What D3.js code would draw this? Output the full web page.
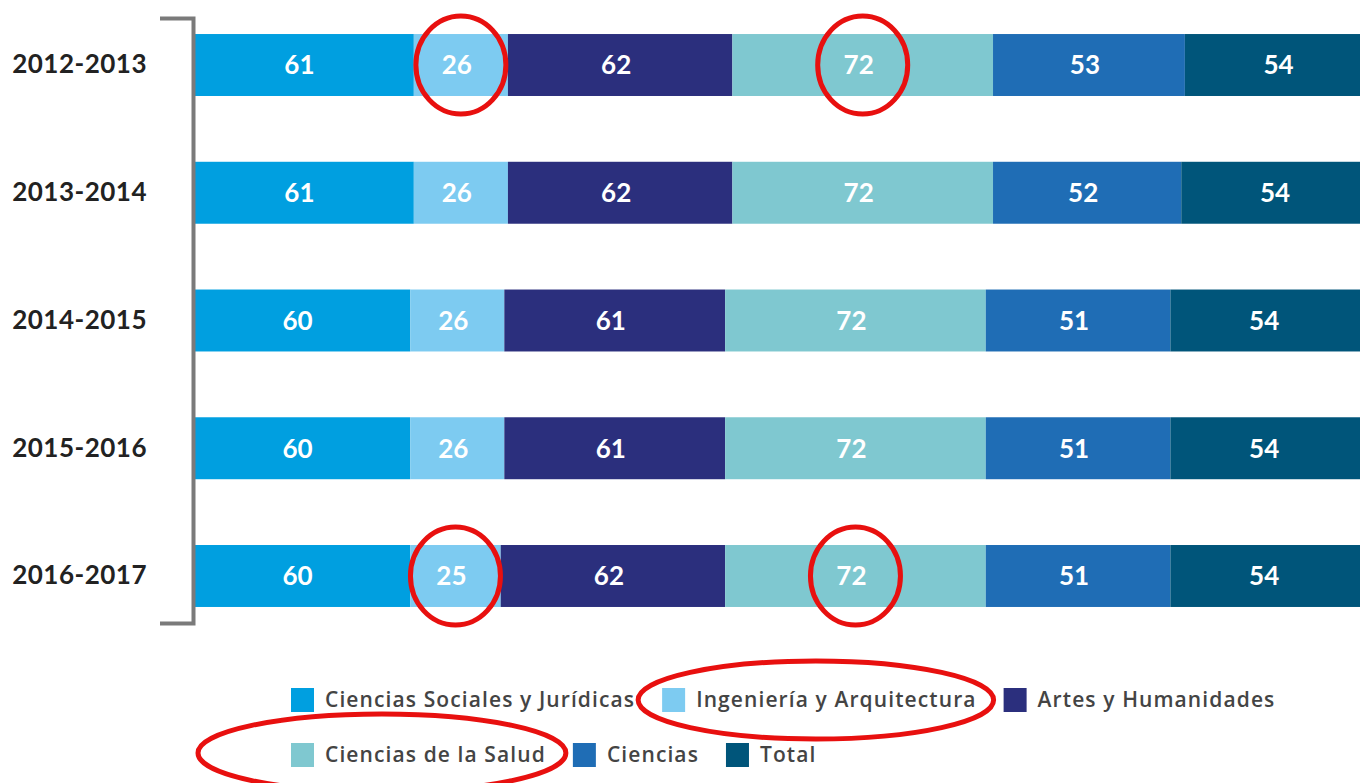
<html>
<head>
<meta charset="utf-8">
<script src="https://d3js.org/d3.v7.min.js"></script>
<style>
  body { margin: 0; background: #fff; }
  .tick text { font-family: Lato, "Open Sans", sans-serif; font-weight: 700; }
</style>
</head>
<body>
<svg width="1360" height="783"></svg>
<script>
// data
var years = ["2012-2013", "2013-2014", "2014-2015", "2015-2016", "2016-2017"];
var series = ["Ciencias Sociales y Jurídicas", "Ingeniería y Arquitectura", "Artes y Humanidades",
              "Ciencias de la Salud", "Ciencias", "Total"];
var socialesJuridicas = [61, 61, 60, 60, 60];
var ingenieriaArq     = [26, 26, 26, 26, 25];
var artesHumanidades  = [62, 62, 61, 61, 62];
var cienciasSalud     = [72, 72, 72, 72, 72];
var ciencias          = [53, 52, 51, 51, 51];
var total             = [54, 54, 54, 54, 54];
var colors = ["#009fe0", "#7dcbf1", "#2b2f7d", "#7fc8d0", "#1f6db5", "#00557a"];
// red circles drawn over the picture: [year index, series index]
var circledCells = [[0, 1], [0, 3], [4, 1], [4, 3]];
// legend entries circled, with how far the hand-drawn ring reaches left / right
var circledLegend = [{item: 1, padL: 24, padR: 17, dy: 0}, {item: 3, padL: 93, padR: 20, dy: -2}];

var values = [socialesJuridicas, ingenieriaArq, artesHumanidades, cienciasSalud, ciencias, total];
var table = years.map(function(y, i) {
  var row = {year: y};
  series.forEach(function(s, j) { row[s] = values[j][i]; });
  return row;
});
var stacked = d3.stack().keys(series)(table);

var svg = d3.select("svg");
var x = d3.scaleLinear().domain([0, 328]).range([193, 193 + 328 * 3.62]);
var y = d3.scaleBand().domain(years).range([18, 623]).paddingInner(0.515).paddingOuter(0.1255);

// bars
var layers = svg.append("g").selectAll("g")
  .data(stacked).enter().append("g")
    .attr("fill", function(d, i) { return colors[i]; });
layers.selectAll("rect")
  .data(function(d) { return d; }).enter().append("rect")
    .attr("x", function(d) { return x(d[0]); })
    .attr("y", function(d) { return y(d.data.year); })
    .attr("width", function(d) { return x(d[1]) - x(d[0]); })
    .attr("height", y.bandwidth());
layers.selectAll("text")
  .data(function(d) { return d; }).enter().append("text")
    .attr("x", function(d) { return (x(d[0]) + x(d[1])) / 2 - 4; })
    .attr("y", function(d) { return y(d.data.year) + y.bandwidth() / 2; })
    .attr("dy", "0.36em")
    .attr("text-anchor", "middle")
    .style("font-family", "Lato, sans-serif")
    .style("font-weight", "700")
    .style("font-size", "26px")
    .attr("fill", "#fff")
    .text(function(d) { return d[1] - d[0]; });

// bracket-shaped axis
var axis = svg.append("g")
  .attr("transform", "translate(193,0)")
  .call(d3.axisLeft(y).tickSizeInner(0).tickSizeOuter(33).tickPadding(46));
axis.select(".domain").attr("stroke", "#7a7a7a").attr("stroke-width", 4).attr("fill", "none");
axis.selectAll(".tick text").style("font-size", "26px").style("letter-spacing", "0.5px").attr("fill", "#222");

// legend
var legend = svg.append("g");
var lx = 291, ly = 700, maxRight = 1300, legendPos = [];
series.forEach(function(s, i) {
  var item = legend.append("g");
  var label = item.append("text")
    .attr("x", 34).attr("dy", "0.35em")
    .style("font-family", "'Open Sans', sans-serif")
    .style("font-weight", "600")
    .style("font-size", "21px")
    .style("letter-spacing", "1.1px")
    .attr("fill", "#444")
    .text(s);
  var w = 34 + label.node().getComputedTextLength();
  if (lx + w > maxRight) { lx = 291; ly += 55; }
  item.append("rect").attr("x", 0).attr("y", -12).attr("width", 23).attr("height", 24).attr("fill", colors[i]);
  item.attr("transform", "translate(" + lx + "," + ly + ")");
  legendPos.push({x: lx, y: ly, w: w});
  lx += w + 27;
});

// red annotation ellipses
var marks = svg.append("g").attr("fill", "none").attr("stroke", "#e8100f").attr("stroke-width", 5);
marks.selectAll("ellipse.cell")
  .data(circledCells).enter().append("ellipse")
    .attr("class", "cell")
    .attr("cx", function(d) { var seg = stacked[d[1]][d[0]]; return (x(seg[0]) + x(seg[1])) / 2; })
    .attr("cy", function(d) { return y(years[d[0]]) + y.bandwidth() / 2; })
    .attr("rx", 45)
    .attr("ry", 49);
marks.selectAll("ellipse.leg")
  .data(circledLegend).enter().append("ellipse")
    .attr("class", "leg")
    .attr("cx", function(d) { var p = legendPos[d.item]; return p.x - d.padL + (p.w + d.padL + d.padR) / 2; })
    .attr("cy", function(d) { return legendPos[d.item].y + d.dy; })
    .attr("rx", function(d) { return (legendPos[d.item].w + d.padL + d.padR) / 2; })
    .attr("ry", 39);
</script>
</body>
</html>
